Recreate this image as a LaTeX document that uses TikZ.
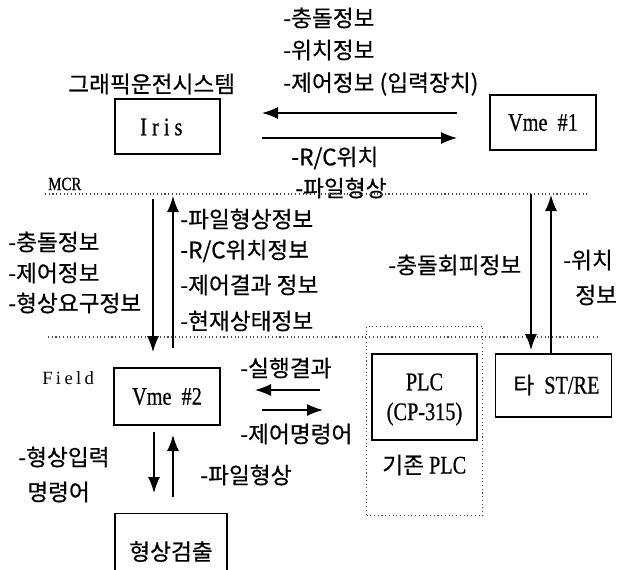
\documentclass[tikz,border=0pt]{standalone}
\usepackage{fontspec}
\setmainfont{Liberation Serif}
\newfontfamily\kr[FakeBold=0.5]{Noto Sans CJK KR}
\newfontfamily\narrowserif[FakeStretch=0.8,FakeBold=0.6]{Liberation Serif}
\usetikzlibrary{arrows.meta}
\tikzset{
  krt/.style={anchor=west, inner sep=0pt, font=\kr\fontsize{17}{20}\selectfont},
  lat/.style={anchor=west, inner sep=0pt, font=\fontsize{13}{15}\selectfont},
  boxnode/.style={draw, line width=1.3pt, inner sep=0pt, font=\narrowserif\fontsize{19}{21}\selectfont},
  serift/.style={inner sep=0pt, font=\narrowserif\fontsize{19}{21}\selectfont},
  arr/.style={line width=1pt, -{Latex[length=12pt,width=9pt]}},
  dotln/.style={dotted, line width=0.8pt, black!70},
}
\begin{document}
\begin{tikzpicture}[x=0.75pt,y=-0.75pt]
\useasboundingbox (0,0) rectangle (623,569);
% ---------- top ----------
\node[krt] (t1) at (283,18) {-충돌정보};
\node[krt] (t2) at (283,50) {-위치정보};
\node[krt] (t3) at (283,84) {-제어정보 (입력장치)};
\node[krt] (title) at (68,84) {그래픽운전시스템};
\node[boxnode, minimum width=79, minimum height=41] (iris) at (167.5,126.5) {};
\node[serift, anchor=west, font=\narrowserif\addfontfeatures{LetterSpace=20}\fontsize{19}{21}\selectfont] (iristxt) at (140,127) {Iris};
\node[boxnode, minimum width=80, minimum height=41] (vme1) at (543,122.5) {Vme\ \ \#1};
\coordinate (a1s) at (457,113); \coordinate (a1e) at (262,113);
\coordinate (a2s) at (262,138); \coordinate (a2e) at (457,138);
\draw[arr] (a1s) -- (a1e);
\draw[arr] (a2s) -- (a2e);
\node[krt] (rc) at (291,158) {-R/C위치};
\node[krt] (pil1) at (295,188) {-파일형상};
% ---------- MCR band ----------
\node[lat, font=\narrowserif\fontsize{14}{16}\selectfont] (mcr) at (48,184) {MCR};
\coordinate (d1a) at (45,194); \coordinate (d1b) at (590,194);
\coordinate (d2a) at (48,337); \coordinate (d2b) at (597,337);
\draw[dotln] (d1a) -- (d1b);
\draw[dotln] (d2a) -- (d2b);
\coordinate (v1s) at (153,199); \coordinate (v1e) at (153,352);
\coordinate (v2s) at (173,348); \coordinate (v2e) at (173,196);
\draw[arr] (v1s) -- (v1e);
\draw[arr] (v2s) -- (v2e);
\node[krt] (l1) at (8,242) {-충돌정보};
\node[krt] (l2) at (8,273) {-제어정보};
\node[krt] (l3) at (8,303) {-형상요구정보};
\node[krt] (r1) at (180,219) {-파일형상정보};
\node[krt] (r2) at (180,251) {-R/C위치정보};
\node[krt] (r3) at (180,285) {-제어결과 정보};
\node[krt] (r4) at (180,321) {-현재상태정보};
\node[krt] (chf) at (388,265) {-충돌회피정보};
\node[krt] (wc1) at (563,260) {-위치};
\node[krt] (wc2) at (575,295) {정보};
\coordinate (v3s) at (531,194); \coordinate (v3e) at (531,350);
\coordinate (v4s) at (551,355); \coordinate (v4e) at (551,195);
\draw[arr] (v3s) -- (v3e);
\draw[arr] (v4s) -- (v4e);
% ---------- field ----------
\node[lat, font=\addfontfeatures{LetterSpace=18}\fontsize{14}{16}\selectfont] (field) at (42,378) {Field};
\node[boxnode, minimum width=80, minimum height=43] (vme2) at (167,396.5) {Vme\ \ \#2};
\node[krt] (sh) at (240,368) {-실행결과};
\coordinate (h1s) at (320,390); \coordinate (h1e) at (255,390);
\coordinate (h2s) at (262,410); \coordinate (h2e) at (323,410);
\draw[arr] (h1s) -- (h1e);
\draw[arr] (h2s) -- (h2e);
\node[krt] (jm) at (240,434) {-제어명령어};
\node[draw, dotln, minimum width=87, minimum height=142, inner sep=0pt] (plcgrp) at (424.5,421) {};
\node[boxnode, minimum width=79, minimum height=64] (plc) at (424.5,397) {};
\node[serift] (plct1) at (424.5,382) {PLC};
\node[serift] (plct2) at (424.5,414) {(CP-315)};
\node[serift, anchor=west] (gplc) at (382,465) {{\kr\fontsize{17}{19}\selectfont 기존}\ PLC};
\node[boxnode, minimum width=87, minimum height=47] (st) at (553.5,385.5) {};
\node[serift, anchor=west] (stt) at (513,385) {{\kr\fontsize{17}{19}\selectfont 타}\ \ ST/RE};
\coordinate (v5s) at (154,432); \coordinate (v5e) at (154,493);
\coordinate (v6s) at (173,497); \coordinate (v6e) at (173,435);
\draw[arr] (v5s) -- (v5e);
\draw[arr] (v6s) -- (v6e);
\node[krt] (hi1) at (18,457) {-형상입력};
\node[krt] (hi2) at (27,492) {명령어};
\node[krt] (pil2) at (200,475) {-파일형상};
\node[boxnode, minimum width=84, minimum height=57, font=\kr\fontsize{17}{20}\selectfont] (det) at (171,551.5) {형상검출};
\end{tikzpicture}
\end{document}
